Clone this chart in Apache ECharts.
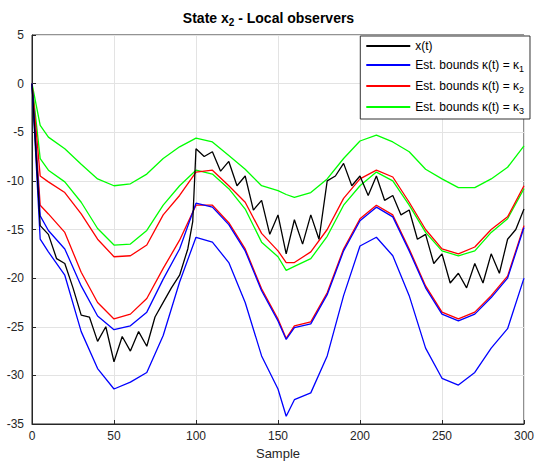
<!DOCTYPE html>
<html>
<head>
<meta charset="utf-8">
<script src="https://cdn.jsdelivr.net/npm/echarts@6/dist/echarts.min.js"></script>
<style>html,body{margin:0;padding:0;background:#fff}#chart{width:537px;height:473px}</style>
</head>
<body>
<div id="chart"></div>
<script>
const boundX = [0,5,10,20,30,40,50,60,70,80,90,100,110,120,130,140,150,155,160,170,180,190,200,210,220,230,240,250,260,270,280,290,300];
const greenUpper = [0,-4.3,-5.5,-6.7,-8.3,-9.8,-10.5,-10.3,-9.3,-7.7,-6.5,-5.6,-6,-7.4,-8.8,-10.5,-11,-11.4,-11.7,-11.2,-9.8,-7.7,-5.9,-5.3,-6,-7,-8.8,-9.8,-10.7,-10.7,-9.8,-8.6,-6.4];
const greenLower = [0,-7.7,-8.9,-10.1,-12.2,-14.9,-16.6,-16.5,-15.1,-12.5,-10.5,-8.9,-9.3,-10.8,-12.9,-16.3,-17.8,-19.2,-18.8,-18,-15.7,-12.5,-10.5,-9.1,-10,-12.5,-15.3,-17.2,-17.7,-17.2,-15.3,-13.9,-10.8];
const redUpper = [0,-9.5,-10.1,-11.2,-13.4,-16,-17.8,-17.7,-16.6,-13.5,-11.5,-9.1,-8.9,-10.5,-12.2,-15.4,-17.2,-18.4,-18.4,-17.3,-15,-11.8,-9.8,-8.9,-9.6,-12.2,-15,-17,-17.5,-16.8,-15,-13.7,-10.5];
const redLower = [0,-12.5,-13.4,-15.3,-19.4,-22.5,-24.2,-23.7,-22.1,-19,-16.1,-12.5,-12.5,-14.3,-17,-21.1,-24.2,-26.2,-24.9,-24.5,-21.5,-17,-13.9,-12.5,-13.5,-17,-20.8,-23.5,-24.2,-23.5,-21.8,-19.8,-14.6];
const blueUpper = [0,-13.6,-15.1,-17,-20.8,-23.9,-25.3,-24.9,-23.5,-20.1,-17,-12.3,-12.7,-14.5,-17.2,-21.3,-24.4,-26.3,-25.1,-24.7,-21.7,-17.2,-14.1,-12.7,-13.7,-17.2,-21,-23.7,-24.4,-23.7,-22,-20,-14.8];
const blueLower = [0,-16,-17.3,-19.7,-25.5,-29.3,-31.4,-30.7,-29.7,-25.9,-20.4,-15.8,-16.3,-18.4,-22.5,-28,-31.4,-34.2,-32.5,-31.8,-28,-21.8,-16.7,-15.8,-17.7,-21.8,-27.2,-30.3,-31,-29.7,-27.2,-25.2,-20];

const stateX = [0,5,10,15,20,25,30,35,40,45,50,55,60,65,70,75,80,85,90,95,98,100,105,110,115,120,125,130,135,140,145,150,155,160,165,170,175,180,185,190,195,200,205,210,215,220,225,230,235,240,245,250,255,260,265,270,275,280,285,290,295,300];
const stateY = [0,-14.6,-15.5,-18,-18.5,-21,-23.8,-24,-26.5,-25,-28.6,-26,-27.5,-25.5,-27,-24,-22.5,-21,-19.7,-17,-14.2,-6.7,-7.5,-7,-9,-8,-10.5,-9.5,-13,-12,-15.5,-13.5,-17.5,-14,-16.5,-13.5,-16,-10,-9.5,-8.2,-10.5,-9.5,-11.5,-9.5,-12,-11.5,-13.5,-13,-16,-15.5,-18.5,-17.5,-20.5,-19.5,-21,-18.5,-20.5,-17.5,-19.5,-16,-15,-12.9];

const yTicks = [-35,-30,-25,-20,-15,-10,-5,0,5];
const xTicks = [0,50,100,150,200,250,300];

const names = ['x(t)', 'Est. bounds κ(t) = κ1', 'Est. bounds κ(t) = κ2', 'Est. bounds κ(t) = κ3'];
const zip = (xs, ys) => xs.map((x, i) => [x, ys[i]]);

let line = (name, color, data) => ({
    name, type: 'line', data, showSymbol: false, symbol: 'none',
    lineStyle: { color, width: 1.3 }, itemStyle: { color }, animation: false
});

const chart = echarts.init(document.querySelector('#chart'), null, { renderer: 'svg' });
chart.setOption({
    animation: false,
    title: {
        text: 'State x{s|2} - Local observers', left: 'center', top: 4,
        textStyle: { fontFamily: 'Liberation Sans', fontSize: 14, fontWeight: 'bold', color: '#000',
            rich: { s: { fontSize: 10, fontWeight: 'bold', verticalAlign: 'bottom', padding: [8, 0, 0, 0] } } }
    },
    legend: {
        orient: 'vertical', right: 7, top: 36, itemWidth: 44, itemHeight: 2, itemGap: 7,
        backgroundColor: '#fff', borderColor: '#333', borderWidth: 1, borderRadius: 0, padding: [4, 6, 4, 6],
        icon: 'rect', data: names,
        formatter: n => n.replace(/κ(\d)$/, 'κ{s|$1}'),
        textStyle: { fontFamily: 'Liberation Sans', fontSize: 12, color: '#000',
            rich: { s: { fontSize: 9, verticalAlign: 'bottom', padding: [7, 0, 0, 0] } } }
    },
    grid: { left: 32, right: 11, top: 35, bottom: 49, show: true, borderColor: '#262626', borderWidth: 1 },
    xAxis: {
        type: 'value', min: xTicks[0], max: xTicks[xTicks.length - 1], interval: 50,
        name: 'Sample', nameLocation: 'middle', nameGap: 22,
        nameTextStyle: { fontFamily: 'Liberation Sans', fontSize: 13, color: '#262626' },
        axisLine: { onZero: false, lineStyle: { color: '#262626' } },
        axisTick: { inside: true, length: 4, lineStyle: { color: '#262626' } },
        axisLabel: { fontFamily: 'Liberation Sans', fontSize: 12, color: '#262626', margin: 6 },
        splitLine: { show: true, lineStyle: { color: '#e3e3e3' } }
    },
    yAxis: {
        type: 'value', min: yTicks[0], max: yTicks[yTicks.length - 1], interval: 5,
        axisLine: { show: true, onZero: false, lineStyle: { color: '#262626' } },
        axisTick: { show: true, inside: true, length: 4, lineStyle: { color: '#262626' } },
        axisLabel: { fontFamily: 'Liberation Sans', fontSize: 12, color: '#262626', margin: 8 },
        splitLine: { show: true, lineStyle: { color: '#e3e3e3' } }
    },
    series: [
        line(names[3], '#00ff00', zip(boundX, greenUpper)),
        line(names[3], '#00ff00', zip(boundX, greenLower)),
        line(names[2], '#ff0000', zip(boundX, redUpper)),
        line(names[2], '#ff0000', zip(boundX, redLower)),
        line(names[1], '#0000ff', zip(boundX, blueUpper)),
        line(names[1], '#0000ff', zip(boundX, blueLower)),
        line(names[0], '#000000', zip(stateX, stateY))
    ]
});
window.onresize = () => { chart.resize() };
</script>
</body>
</html>
